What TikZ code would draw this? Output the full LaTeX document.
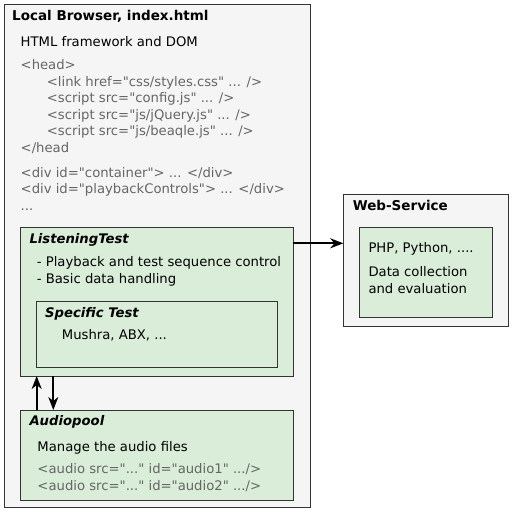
\documentclass[tikz,border=0pt]{standalone}
\usepackage{fontspec}
\setmainfont{DejaVu Sans}[Ligatures=TeXOff]
\usetikzlibrary{arrows.meta}
\definecolor{bgc}{HTML}{F5F5F5}
\definecolor{grn}{HTML}{D9EDD9}
\definecolor{codec}{HTML}{666666}
\definecolor{linec}{HTML}{333333}
\tikzset{
  box/.style={draw=linec, line width=0.9pt},
  txt/.style={anchor=base west, inner sep=0pt, font=\fontsize{13.2}{16}\selectfont},
  ttl/.style={txt, font=\fontsize{13.5}{16}\selectfont\bfseries},
  ittl/.style={txt, font=\fontsize{13.2}{16}\selectfont\bfseries\itshape},
  code/.style={txt, text=codec},
  arr/.style={-{Stealth[length=13pt,width=10pt,inset=4pt]}, line width=1.7pt, color=black},
}
\begin{document}
\begin{tikzpicture}[x=1pt,y=-1pt]
\useasboundingbox (0,0) rectangle (512,512);
% outer browser box
\draw[box, fill=bgc] (4,4) rectangle (310,507.5);
\node[ttl] (t1) at (12,20) {Local Browser, index.html};
\node[txt] (h1) at (20.5,46.3) {HTML framework and DOM};
\node[code] (c1) at (20.5,69.5) {<head>};
\node[code] (c2) at (46.7,86) {<link href="css/styles.css" ... />};
\node[code] (c3) at (46.7,102.5) {<script src="config.js" ... />};
\node[code] (c4) at (46.7,119) {<script src="js/jQuery.js" ... />};
\node[code] (c5) at (46.7,135.5) {<script src="js/beaqle.js" ... />};
\node[code] (c6) at (20.5,152) {</head};
\node[code] (c7) at (20.5,177) {<div id="container"> ... </div>};
\node[code] (c8) at (20.5,193.5) {<div id="playbackControls"> ... </div>};
\node[code] (c9) at (20.5,210) {...};
% ListeningTest
\draw[box, fill=grn] (20,227) rectangle (293.3,376);
\coordinate (ltR) at (293.3,243.3);
\coordinate (ltB1) at (36.7,376);
\coordinate (ltB2) at (53.3,376);
\node[ittl] (lt) at (29.3,243.3) {ListeningTest};
\node[txt] (l1) at (36.7,266.7) {- Playback and test sequence control};
\node[txt] (l2) at (36.7,283.3) {- Basic data handling};
\draw[box, fill=grn] (36,301.7) rectangle (277,367.7);
\node[ittl] (st) at (45,317) {Specific Test};
\node[txt] (s1) at (61.7,339.5) {Mushra, ABX, ...};
% Audiopool
\draw[box, fill=grn] (20.5,410) rectangle (293.3,500);
\coordinate (apT1) at (36.7,410);
\coordinate (apT2) at (53.3,410);
\node[ittl] (ap) at (29.3,425) {Audiopool};
\node[txt] (a1) at (37.3,451) {Manage the audio files};
\node[code] (a2) at (37.3,473) {<audio src="..." id="audio1" .../>};
\node[code] (a3) at (37.3,490) {<audio src="..." id="audio2" .../>};
% Web-Service
\draw[box, fill=bgc] (343.3,194) rectangle (508.7,326);
\coordinate (wsL) at (343.3,243.3);
\node[ttl] (ws) at (352.7,210.7) {Web-Service};
\draw[box, fill=grn] (359.3,227.3) rectangle (492,317.3);
\node[txt] (w1) at (368.3,252.7) {PHP, Python, ....};
\node[txt] (w2) at (368.3,276.7) {Data collection};
\node[txt] (w3) at (368.3,293.3) {and evaluation};
% arrows
\draw[arr] (ltR) -- (wsL);
\draw[arr] (apT1) -- (ltB1);
\draw[arr] (ltB2) -- (apT2);
\end{tikzpicture}
\end{document}
